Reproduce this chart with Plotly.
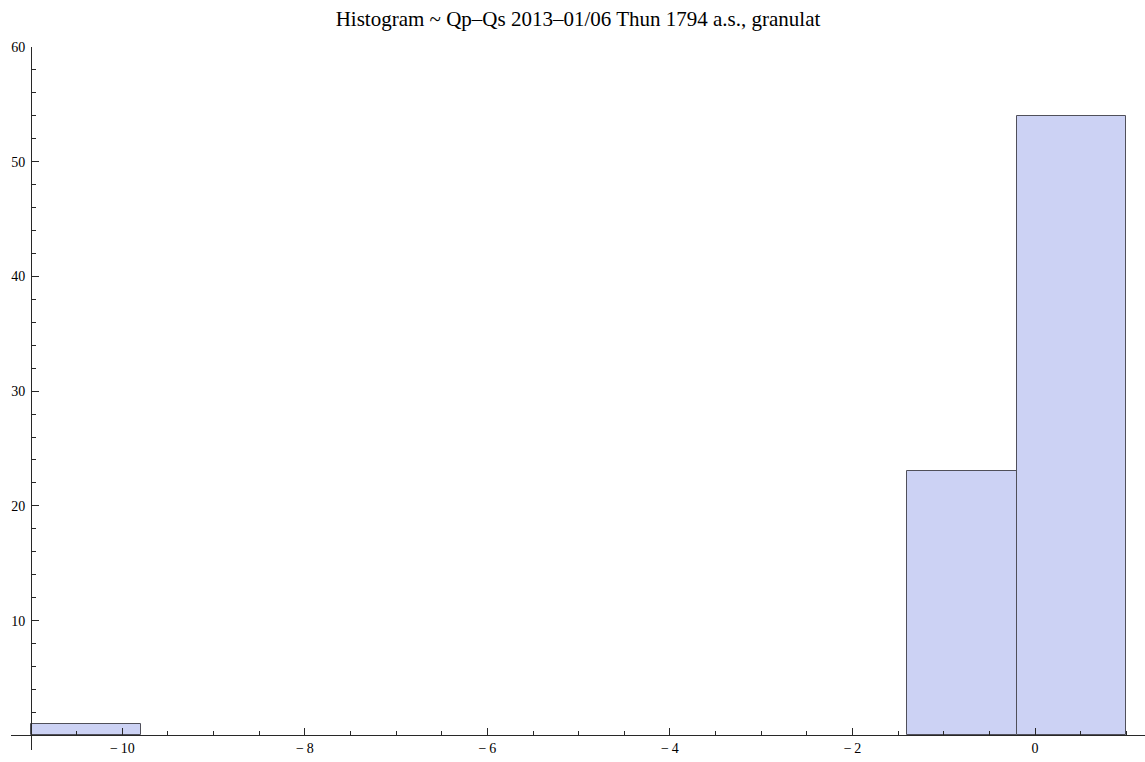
import plotly.graph_objects as go

# Histogram bins (width 1.2) and counts per bin
bin_edges = [-11.0, -9.8, -8.6, -7.4, -6.2, -5.0, -3.8, -2.6, -1.4, -0.2, 1.0]
counts = [1, 0, 0, 0, 0, 0, 0, 0, 23, 54]

x_tick_vals = [-10, -8, -6, -4, -2, 0]
x_tick_text = ["\u2212\u200910", "\u2212\u20098", "\u2212\u20096", "\u2212\u20094", "\u2212\u20092", "0"]
y_tick_vals = [10, 20, 30, 40, 50, 60]

title_text = "Histogram ~ Qp\u2013Qs 2013\u201301/06 Thun 1794 a.s., granulat"

# keep only non-empty bins as drawn rectangles
centers, widths, heights = [], [], []
for i, c in enumerate(counts):
    if c > 0:
        lo, hi = bin_edges[i], bin_edges[i + 1]
        centers.append((lo + hi) / 2)
        widths.append(hi - lo)
        heights.append(c)

x_range = [-11.22, 1.205]
y_range = [-1.28, 60]
origin_x = bin_edges[0]

fig = go.Figure(
    go.Bar(
        x=centers,
        y=heights,
        width=widths,
        marker=dict(color="rgb(204,210,244)", line=dict(color="rgb(80,80,90)", width=1)),
        hoverinfo="x+y",
    )
)

axis_color = "rgb(40,40,40)"
serif = "Liberation Serif, DejaVu Serif, serif"
tick_font = dict(family=serif, size=14, color="black")

fig.update_layout(
    width=1145,
    height=762,
    margin=dict(l=11, r=0, t=47, b=12),
    paper_bgcolor="white",
    plot_bgcolor="white",
    showlegend=False,
    bargap=0,
    title=dict(
        text=title_text,
        x=0.5,
        xref="paper",
        xanchor="center",
        y=1 - 19 / 762,
        yanchor="middle",
        font=dict(family=serif, size=21, color="black"),
    ),
    xaxis=dict(
        range=x_range,
        anchor="free",
        position=(0 - y_range[0]) / (y_range[1] - y_range[0]),
        showgrid=False,
        zeroline=False,
        showline=True,
        linecolor=axis_color,
        linewidth=1,
        ticks="inside",
        ticklen=7,
        tickwidth=1,
        tickcolor=axis_color,
        tickvals=x_tick_vals,
        ticktext=x_tick_text,
        tickfont=tick_font,
        minor=dict(dtick=0.5, tick0=0, ticks="inside", ticklen=4, tickcolor=axis_color, showgrid=False),
    ),
    yaxis=dict(
        range=y_range,
        anchor="free",
        position=(origin_x - x_range[0]) / (x_range[1] - x_range[0]),
        showgrid=False,
        zeroline=False,
        showline=True,
        linecolor=axis_color,
        linewidth=1,
        ticks="inside",
        ticklen=7,
        tickwidth=1,
        tickcolor=axis_color,
        tickvals=y_tick_vals,
        tickfont=tick_font,
        ticklabelstandoff=3,
        minor=dict(dtick=2, tick0=0, ticks="inside", ticklen=4, tickcolor=axis_color, showgrid=False),
    ),
)

fig.write_html("out.html")
